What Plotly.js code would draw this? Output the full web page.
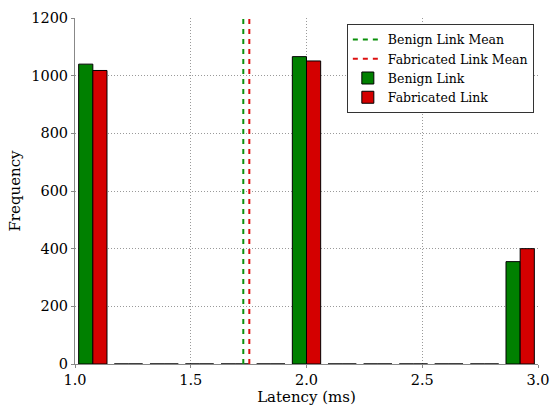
<!DOCTYPE html>
<html>
<head>
<meta charset="utf-8">
<script src="https://cdn.plot.ly/plotly-3.0.1.min.js"></script>
<style>html,body{margin:0;padding:0;background:#fff;}#chart{width:551px;height:407px;}</style>
</head>
<body>
<div id="chart"></div>
<script>
// Histogram bin centres (13 bins spanning 1.0 – 3.0 ms)
const binCenters = [1.077, 1.231, 1.385, 1.538, 1.692, 1.846, 2.000, 2.154, 2.308, 2.462, 2.615, 2.769, 2.923];
const benignCounts = [1040, 0, 0, 0, 0, 0, 1066, 0, 0, 0, 0, 0, 355];
const fabricatedCounts = [1018, 0, 0, 0, 0, 0, 1051, 0, 0, 0, 0, 0, 400];
const benignMean = 1.727;
const fabricatedMean = 1.753;
const yRange = [0, 1200];
const xTicks = [1.0, 1.5, 2.0, 2.5, 3.0];
const yTicks = [0, 200, 400, 600, 800, 1000, 1200];

const GREEN = '#008000';
const RED = '#d40000';
const FONT = 'DejaVu Serif, Liberation Serif, serif';

const traces = [
  {type: 'scatter', mode: 'lines', name: 'Benign Link Mean',
   x: [benignMean, benignMean], y: yRange,
   line: {color: '#0a900a', width: 2, dash: '5px,5px'}},
  {type: 'scatter', mode: 'lines', name: 'Fabricated Link Mean',
   x: [fabricatedMean, fabricatedMean], y: yRange,
   line: {color: '#dd1010', width: 2, dash: '5px,5px'}},
  {type: 'bar', name: 'Benign Link', x: binCenters, y: benignCounts,
   marker: {color: GREEN, line: {color: '#000', width: 1}}},
  {type: 'bar', name: 'Fabricated Link', x: binCenters, y: fabricatedCounts,
   marker: {color: RED, line: {color: '#000', width: 1}}}
];

const layout = {
  width: 551, height: 407,
  margin: {l: 75, r: 13, t: 18, b: 43},
  paper_bgcolor: '#fff', plot_bgcolor: '#fff',
  font: {family: FONT, size: 14, color: '#000'},
  barmode: 'group', bargap: 0.2, bargroupgap: 0,
  showlegend: true,
  legend: {x: 0.991, y: 0.983, xanchor: 'right', yanchor: 'top',
           bgcolor: '#fff', bordercolor: '#333', borderwidth: 1,
           font: {family: FONT, size: 12.5}, tracegroupgap: 0, itemwidth: 30},
  xaxis: {range: [1.0, 3.0], tickvals: xTicks, ticktext: xTicks.map(v => v.toFixed(1)),
          showgrid: true, gridcolor: '#9a9a9a', griddash: '1px,2px', gridwidth: 1,
          showline: true, linecolor: '#888', linewidth: 1, mirror: false,
          ticks: 'outside', ticklen: 3, tickcolor: '#888',
          zeroline: false, tickfont: {family: FONT, size: 14.5},
          title: {text: 'Latency (ms)', font: {family: FONT, size: 15}, standoff: 2}},
  yaxis: {range: yRange, tickvals: yTicks,
          showgrid: true, gridcolor: '#9a9a9a', griddash: '1px,2px', gridwidth: 1,
          showline: true, linecolor: '#888', linewidth: 1, mirror: false,
          ticks: 'outside', ticklen: 3, tickcolor: '#888',
          zeroline: false, tickfont: {family: FONT, size: 14.5},
          title: {text: 'Frequency', font: {family: FONT, size: 15}, standoff: 6}}
};

Plotly.newPlot('chart', traces, layout, {displayModeBar: false, staticPlot: true});
</script>
</body>
</html>
